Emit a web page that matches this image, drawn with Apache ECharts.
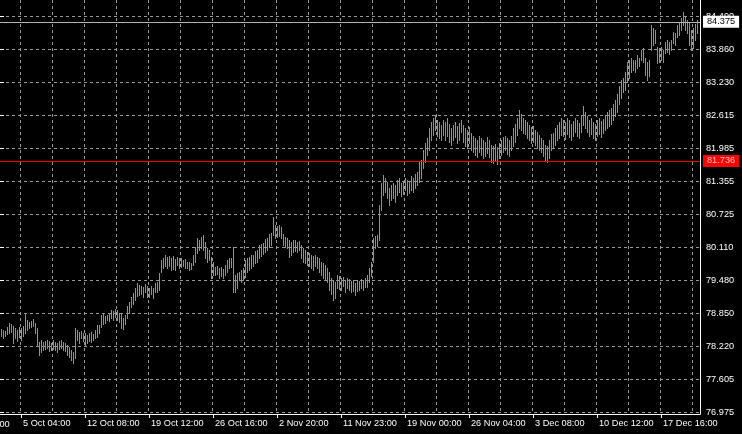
<!DOCTYPE html>
<html><head><meta charset="utf-8">
<script src="https://cdn.jsdelivr.net/npm/echarts@6/dist/echarts.min.js"></script>
<style>html,body{margin:0;padding:0;background:#000;}#c{width:742px;height:434px;}</style>
</head><body><div id="c"></div>
<script>
// H4 bars: high / low prices, oldest first
const highs = [
78.55,78.53,78.51,78.59,78.66,78.64,78.61,78.57,78.53,78.59,
78.57,78.61,78.85,78.72,78.68,78.70,78.74,78.66,78.57,78.30,
78.34,78.30,78.32,78.34,78.32,78.28,78.34,78.30,78.28,78.32,
78.34,78.30,78.28,78.25,78.21,78.15,78.11,78.57,78.53,78.49,
78.51,78.47,78.47,78.44,78.47,78.49,78.45,78.53,78.63,78.63,
78.82,78.85,78.80,78.82,78.83,78.91,78.89,78.93,78.91,78.85,
78.85,78.76,78.82,78.99,79.06,79.16,79.23,79.33,79.42,79.39,
79.37,79.35,79.40,79.37,79.33,79.37,79.33,79.42,79.44,79.61,
79.86,79.90,79.96,79.92,79.94,79.90,79.94,79.88,79.92,79.90,
79.90,79.86,79.88,79.82,79.82,79.80,79.96,80.11,80.28,80.24,
80.30,80.34,80.20,80.09,80.05,79.92,79.82,79.73,79.75,79.71,
79.73,79.69,79.77,79.86,79.90,79.90,80.11,79.58,79.61,79.63,
79.67,79.71,79.86,79.90,79.92,79.96,79.96,80.03,80.05,80.15,
80.16,80.18,80.26,80.28,80.35,80.37,80.68,80.53,80.51,80.53,
80.49,80.35,80.30,80.28,80.24,80.20,80.24,80.24,80.20,80.22,
80.15,80.09,80.05,80.01,79.99,79.96,79.94,79.96,79.92,79.90,
79.82,79.80,79.77,79.71,79.63,79.52,79.48,79.44,79.58,79.56,
79.52,79.54,79.48,79.52,79.50,79.46,79.48,79.42,79.48,79.46,
79.50,79.48,79.52,79.58,79.71,79.82,80.28,80.32,80.34,80.91,
81.32,81.47,81.42,81.34,81.23,81.29,81.32,81.29,81.38,81.42,
81.32,81.36,81.42,81.38,81.34,81.46,81.42,81.49,81.53,81.72,
81.76,81.95,82.08,82.18,82.37,82.48,82.56,82.62,82.52,82.48,
82.43,82.52,82.48,82.56,82.44,82.37,82.43,82.48,82.41,82.46,
82.52,82.43,82.37,82.33,82.39,82.27,82.22,82.18,82.14,82.22,
82.18,82.14,82.10,82.20,82.14,82.05,82.03,82.06,82.01,82.08,
82.14,82.20,82.22,82.18,82.14,82.22,82.37,82.44,82.56,82.71,
82.63,82.56,82.52,82.48,82.43,82.39,82.41,82.33,82.29,82.24,
82.18,82.14,82.05,82.03,82.14,82.25,82.27,82.37,82.43,82.48,
82.56,82.52,82.48,82.56,82.52,82.44,82.50,82.56,82.52,82.46,
82.62,82.79,82.67,82.60,82.52,82.56,82.48,82.44,82.52,82.56,
82.50,82.54,82.62,82.67,82.71,82.75,82.82,82.90,83.01,83.17,
83.28,83.32,83.43,83.62,83.66,83.70,83.66,83.66,83.75,83.70,
83.85,83.89,83.70,83.62,83.66,84.32,84.27,84.23,83.91,83.89,
83.91,83.85,84.00,84.04,84.00,84.04,84.19,84.17,84.32,84.38,
84.45,84.57,84.47,84.42,84.36,84.23,84.27,84.34,84.42
];
const lows = [
78.42,78.38,78.42,78.45,78.47,78.49,78.28,78.38,78.32,78.40,
78.34,78.42,78.47,78.53,78.57,78.59,78.61,78.47,78.25,78.06,
78.11,78.15,78.17,78.19,78.13,78.15,78.17,78.15,78.11,78.17,
78.19,78.15,78.13,78.06,78.02,77.96,77.90,78.00,78.34,78.28,
78.38,78.32,78.25,78.28,78.32,78.30,78.34,78.38,78.40,78.47,
78.59,78.64,78.66,78.72,78.70,78.76,78.72,78.78,78.72,78.68,
78.57,78.55,78.64,78.76,78.85,78.97,79.02,79.10,79.18,79.20,
79.21,79.16,79.25,79.16,79.16,79.21,79.14,79.25,79.25,79.29,
79.63,79.71,79.75,79.71,79.75,79.67,79.69,79.67,79.77,79.71,
79.73,79.75,79.71,79.71,79.67,79.69,79.77,79.82,79.99,80.05,
80.09,80.05,79.90,79.82,79.86,79.52,79.58,79.58,79.59,79.52,
79.56,79.52,79.58,79.63,79.71,79.73,79.25,79.25,79.33,79.48,
79.44,79.48,79.54,79.63,79.67,79.71,79.75,79.80,79.82,79.90,
79.94,79.97,80.01,80.05,80.11,80.15,80.34,80.28,80.30,80.32,
80.28,80.15,80.11,80.09,79.92,79.96,80.01,80.03,80.01,80.05,
79.90,79.82,79.80,79.77,79.75,79.71,79.67,79.75,79.71,79.63,
79.58,79.52,79.48,79.44,79.29,79.21,79.10,79.14,79.33,79.31,
79.29,79.37,79.25,79.33,79.29,79.25,79.27,79.20,79.27,79.29,
79.33,79.29,79.35,79.35,79.44,79.56,79.82,80.09,80.13,80.24,
80.81,81.10,81.15,81.04,80.91,81.00,81.04,80.96,81.10,81.15,
81.08,81.11,81.19,81.10,81.13,81.19,81.15,81.23,81.29,81.34,
81.42,81.61,81.72,81.86,81.95,82.14,82.24,82.33,82.22,82.18,
82.14,82.24,82.14,82.22,82.10,82.05,82.14,82.20,82.08,82.14,
82.29,82.10,82.03,81.99,82.08,81.95,81.91,81.86,81.82,81.91,
81.86,81.80,81.84,81.89,81.82,81.72,81.70,81.76,81.68,81.80,
81.86,81.91,81.95,81.87,81.84,81.95,82.03,82.10,82.24,82.37,
82.33,82.27,82.25,82.18,82.14,82.08,82.10,82.05,81.99,81.95,
81.91,81.84,81.76,81.72,81.80,81.95,81.99,82.05,82.14,82.18,
82.24,82.22,82.16,82.25,82.20,82.14,82.22,82.29,82.22,82.18,
82.29,82.43,82.37,82.29,82.22,82.25,82.18,82.14,82.22,82.25,
82.20,82.27,82.33,82.37,82.41,82.44,82.52,82.60,82.67,82.82,
82.94,83.05,83.09,83.24,83.32,83.43,83.47,83.43,83.51,83.55,
83.66,83.62,83.37,83.28,83.36,83.85,83.94,83.98,83.60,83.62,
83.66,83.62,83.79,83.81,83.77,83.85,83.98,83.94,84.09,84.13,
84.23,84.32,84.23,84.17,83.94,83.85,83.89,84.04,84.17
];
const yTickLabels = ['76.975','77.605','78.220','78.850','79.480','80.110','80.725','81.355','81.985','82.615','83.230','83.860','84.490'];
const xTickLabels = ['5 Oct 04:00','12 Oct 08:00','19 Oct 12:00','26 Oct 16:00','2 Nov 20:00','11 Nov 23:00','19 Nov 00:00','26 Nov 04:00','3 Dec 08:00','10 Dec 12:00','17 Dec 16:00'];
const prevXLabel = '25 Sep 16:00';
const redLevel = 81.736;
const lastPrice = 84.375;

// layout
const SLOTS = 350, FIRST_LABEL = 10, LABEL_STEP = 32, GRID_STEP = 16;
const G = {left: 0, right: 42, top: 0, bottom: 20};
const labelTopPx = 16, labelBottomPx = 412, plotBottomPx = 414;
const lo = +yTickLabels[0], hi = +yTickLabels[yTickLabels.length - 1];
const perPx = (hi - lo) / (labelBottomPx - labelTopPx);
const yMin = lo - (plotBottomPx - labelBottomPx) * perPx;
const yMax = hi + (labelTopPx - G.top) * perPx;

const cats = new Array(SLOTS).fill('');
xTickLabels.forEach((t, k) => { cats[FIRST_LABEL + k * LABEL_STEP] = t; });
const isLabel = (i) => i >= FIRST_LABEL && (i - FIRST_LABEL) % LABEL_STEP === 0;
const isGrid = (i) => ((i - FIRST_LABEL) % GRID_STEP + GRID_STEP) % GRID_STEP === 0;

const FONT = 'Liberation Sans';
const FS = 9.2;
const GRID_COLOR = '#9a9a9a';
const BAR_COLOR = '#22e022';
const barPx = (742 - G.left - G.right) / SLOTS;

const chart = echarts.init(document.getElementById('c'), null, {renderer: 'canvas'});
chart.setOption({
  backgroundColor: '#000',
  animation: false,
  grid: [
    {left: G.left, right: G.right, top: G.top, bottom: G.bottom},
    {left: G.left, right: G.right, top: labelTopPx, bottom: 434 - labelBottomPx}
  ],
  xAxis: [
    {
      gridIndex: 0, type: 'category', data: cats, boundaryGap: true,
      axisLine: {show: true, lineStyle: {color: '#fff', width: 1}},
      axisTick: {show: true, alignWithLabel: true, interval: (i) => isLabel(i), length: 4, lineStyle: {color: '#fff'}},
      axisLabel: {interval: (i) => isLabel(i), align: 'left', color: '#fff', fontSize: FS, fontFamily: FONT, margin: 5, padding: [0, 0, 0, 2]},
      splitLine: {show: true, interval: (i) => isGrid(i), lineStyle: {color: GRID_COLOR, type: [3, 3], width: 1}}
    },
    {gridIndex: 1, type: 'value', show: false, min: 0, max: 1}
  ],
  yAxis: [
    {
      gridIndex: 0, type: 'value', position: 'right', min: yMin, max: yMax, scale: true,
      axisLine: {show: true, lineStyle: {color: '#fff', width: 1}},
      axisTick: {show: false}, axisLabel: {show: false}, splitLine: {show: false}
    },
    {
      gridIndex: 1, type: 'category', position: 'right', data: yTickLabels, boundaryGap: false,
      axisLine: {show: false},
      axisTick: {show: true, length: 4, interval: 0, lineStyle: {color: '#fff'}},
      axisLabel: {interval: 0, color: '#fff', fontSize: FS, fontFamily: FONT, margin: 6},
      splitLine: {show: true, interval: 0, lineStyle: {color: GRID_COLOR, type: [3, 3], width: 1}}
    }
  ],
  graphic: [{
    type: 'text', x: G.left + (FIRST_LABEL - LABEL_STEP + 0.5) * barPx - 2, y: 434 - G.bottom + 10,
    style: {text: prevXLabel, fill: '#fff', font: FS + 'px "' + FONT + '"', verticalAlign: 'middle', align: 'left'}
  }],
  series: [
    {
      type: 'custom', xAxisIndex: 0, yAxisIndex: 0, clip: true,
      data: highs.map((h, i) => [i, lows[i], h]),
      encode: {x: 0, y: [1, 2]},
      renderItem: function (params, api) {
        const a = api.coord([api.value(0), api.value(1)]);
        const b = api.coord([api.value(0), api.value(2)]);
        const px = Math.round(a[0]);
        const top = Math.round(b[1]), bot = Math.round(a[1]);
        return {type: 'rect', shape: {x: px, y: top, width: 1, height: Math.max(1, bot - top + 1)},
          style: {fill: BAR_COLOR, stroke: null}};
      }
    },
    {
      type: 'line', xAxisIndex: 0, yAxisIndex: 0, data: [], z: 5,
      markLine: {
        silent: true, symbol: ['none', 'none'], animation: false,
        lineStyle: {color: '#ff0000', type: 'solid', width: 1, opacity: 1},
        label: {position: 'end', distance: 3, fontSize: FS, fontFamily: FONT, padding: [2, 4, 1, 4]},
        data: [
          {yAxis: redLevel, lineStyle: {color: '#ff0000', type: 'solid', width: 1, opacity: 1},
            label: {formatter: redLevel.toFixed(3), backgroundColor: '#ff0000', color: '#ffc0c0'}},
          {yAxis: lastPrice, lineStyle: {color: '#b4b4b4', type: 'solid', width: 1, opacity: 1},
            label: {formatter: lastPrice.toFixed(3), backgroundColor: '#ffffff', color: '#000'}}
        ]
      }
    }
  ]
});
</script></body></html>
